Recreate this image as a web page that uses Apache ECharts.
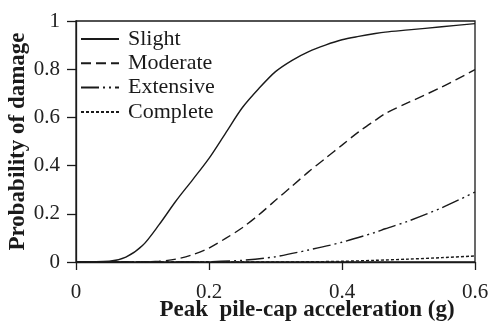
<!DOCTYPE html>
<html>
<head>
<meta charset="utf-8">
<script src="https://cdn.jsdelivr.net/npm/echarts@6/dist/echarts.min.js"></script>
<style>
  html, body { margin: 0; padding: 0; background: #fff; }
  #chart { width: 490px; height: 327px; }
</style>
</head>
<body>
<div id="chart"></div>
<script>
// Fragility curves: probability of damage vs peak pile-cap acceleration (g)
const slightX = [0, 0.05, 0.075, 0.1, 0.125, 0.15, 0.175, 0.2, 0.225, 0.25, 0.275, 0.3, 0.325, 0.35, 0.375, 0.4, 0.425, 0.45, 0.465, 0.5, 0.55, 0.6];
const slightY = [0, 0.003, 0.02, 0.068, 0.155, 0.252, 0.34, 0.43, 0.535, 0.64, 0.72, 0.79, 0.837, 0.873, 0.9, 0.922, 0.936, 0.948, 0.954, 0.963, 0.976, 0.989];

const moderateX = [0, 0.1, 0.125, 0.15, 0.175, 0.2, 0.225, 0.25, 0.275, 0.3, 0.325, 0.35, 0.375, 0.4, 0.425, 0.45, 0.465, 0.5, 0.55, 0.6];
const moderateY = [0, 0, 0.003, 0.012, 0.03, 0.058, 0.098, 0.142, 0.196, 0.256, 0.315, 0.375, 0.43, 0.485, 0.54, 0.588, 0.616, 0.662, 0.726, 0.798];

const extensiveX = [0, 0.15, 0.2, 0.25, 0.3, 0.35, 0.4, 0.45, 0.465, 0.5, 0.55, 0.6];
const extensiveY = [0, 0, 0.001, 0.007, 0.022, 0.05, 0.082, 0.123, 0.138, 0.17, 0.225, 0.29];

const completeX = [0, 0.3, 0.35, 0.4, 0.45, 0.5, 0.55, 0.6];
const completeY = [0, 0, 0.001, 0.003, 0.007, 0.012, 0.018, 0.025];

const xTicks = [0, 0.2, 0.4, 0.6];
const yTicks = [0, 0.2, 0.4, 0.6, 0.8, 1];

const pairs = (xs, ys) => xs.map((x, i) => [x, ys[i]]);

const serif = '"Liberation Serif", "Times New Roman", serif';
const ink = '#1a1a1a';

function lineSeries(name, xs, ys, dash) {
  return {
    name: name,
    type: 'line',
    data: pairs(xs, ys),
    symbol: 'none',
    smooth: 0.3,
    lineStyle: { color: ink, width: 1.4, type: dash },
    itemStyle: { color: ink },
    z: 3
  };
}

const chart = echarts.init(document.getElementById('chart'), null, { renderer: 'canvas' });
chart.setOption({
  animation: false,
  backgroundColor: '#fff',
  grid: {
    left: 76, right: 15, top: 21, bottom: 65,
    containLabel: false,
    outerBoundsMode: 'none',
    show: true, borderColor: ink, borderWidth: 1.3, backgroundColor: 'transparent'
  },
  legend: {
    left: 80, top: 28,
    padding: 0,
    orient: 'vertical',
    itemWidth: 38, itemHeight: 14, itemGap: 2.3,
    itemStyle: { opacity: 0 },
    textStyle: { fontFamily: serif, fontSize: 22, lineHeight: 22, color: ink, padding: [0, 0, 0, 4] },
    data: ['Slight', 'Moderate', 'Extensive', 'Complete']
  },
  xAxis: {
    type: 'value',
    min: xTicks[0], max: xTicks[xTicks.length - 1], interval: 0.2,
    axisLine: { lineStyle: { color: ink, width: 1.3 } },
    axisTick: { show: true, inside: false, length: 8, lineStyle: { color: ink, width: 1.3 } },
    axisLabel: { fontFamily: serif, fontSize: 21, color: '#222', margin: 20 },
    splitLine: { show: false }
  },
  yAxis: {
    type: 'value',
    min: yTicks[0], max: yTicks[yTicks.length - 1], interval: 0.2,
    name: 'Probability of damage',
    nameLocation: 'middle',
    nameGap: 46,
    nameMoveOverlap: false,
    nameTextStyle: { fontFamily: serif, fontSize: 23, fontWeight: 'bold', color: ink },
    axisLine: { lineStyle: { color: ink, width: 1.3 } },
    axisTick: { show: true, inside: false, length: 9, lineStyle: { color: ink, width: 1.3 } },
    axisLabel: { fontFamily: serif, fontSize: 21, color: '#222', margin: 16 },
    splitLine: { show: false }
  },
  graphic: [{
    type: 'text',
    x: 307,
    y: 299,
    style: {
      text: 'Peak  pile-cap acceleration (g)',
      font: 'bold 23px ' + serif,
      fill: ink,
      align: 'center',
      verticalAlign: 'top'
    }
  }],
  series: [
    lineSeries('Slight', slightX, slightY, 'solid'),
    lineSeries('Moderate', moderateX, moderateY, [10, 5]),
    lineSeries('Extensive', extensiveX, extensiveY, [18, 4, 2, 4, 2, 4]),
    lineSeries('Complete', completeX, completeY, [3, 2])
  ]
});
</script>
</body>
</html>
